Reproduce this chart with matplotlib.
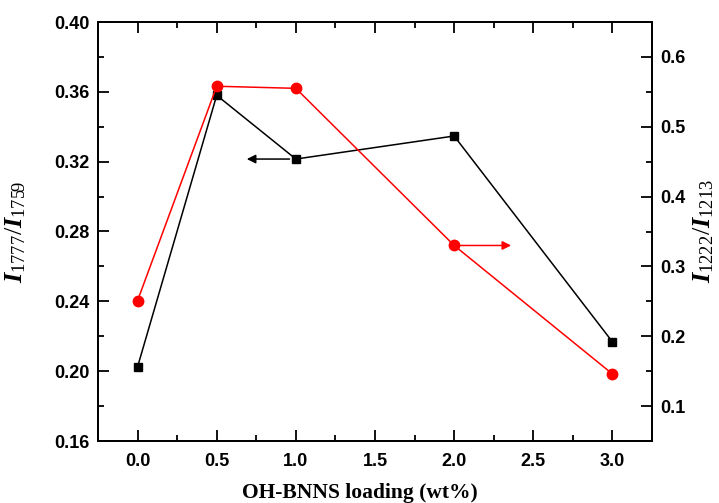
import matplotlib
matplotlib.use('Agg')
import matplotlib.pyplot as plt
from matplotlib.ticker import MultipleLocator

# data
loading = [0.0, 0.5, 1.0, 2.0, 3.0]
ratio_1777 = [0.2025, 0.358, 0.3215, 0.3347, 0.2168]   # left axis, black squares
ratio_1222 = [0.251, 0.558, 0.555, 0.330, 0.146]        # right axis, red circles

plt.rcParams['font.family'] = 'Liberation Sans'
plt.rcParams['mathtext.fontset'] = 'custom'
plt.rcParams['mathtext.it'] = 'Liberation Serif:italic:bold'
plt.rcParams['mathtext.rm'] = 'Liberation Serif'
plt.rcParams['axes.linewidth'] = 1.3

fig = plt.figure(figsize=(7.19, 5.03), dpi=100)
ax = fig.add_axes([98/719, 1 - 441/503, (652-98)/719, (441-22)/503])
ax2 = ax.twinx()

ax.plot(loading, ratio_1777, color='black', marker='s', markersize=6, lw=1.1)
ax2.plot(loading, ratio_1222, color='red', marker='o', markersize=7.5, lw=1.1)

# arrows pointing at the axis each series belongs to
ax.annotate('', xy=(0.69, ratio_1777[2]), xytext=(0.96, ratio_1777[2]),
            arrowprops=dict(arrowstyle='-|>', color='black', lw=1.1,
                            mutation_scale=13, shrinkA=0, shrinkB=0))
ax2.annotate('', xy=(2.36, ratio_1222[3]), xytext=(2.04, ratio_1222[3]),
             arrowprops=dict(arrowstyle='-|>', color='red', lw=1.1,
                             mutation_scale=13, shrinkA=0, shrinkB=0))

ax.set_xlim(-0.25, 3.25)
ax.set_ylim(0.16, 0.40)
ax2.set_ylim(0.05, 0.65)

ax.xaxis.set_major_locator(MultipleLocator(0.5))
ax.xaxis.set_minor_locator(MultipleLocator(0.25))
ax.yaxis.set_major_locator(MultipleLocator(0.04))
ax.yaxis.set_minor_locator(MultipleLocator(0.02))
ax2.yaxis.set_minor_locator(MultipleLocator(0.05))
ax2.set_yticks([0.1, 0.2, 0.3, 0.4, 0.5, 0.6])

ax.tick_params(axis='x', which='both', direction='in', top=True, width=1.3)
ax.tick_params(axis='y', which='both', direction='in', left=True, right=False, width=1.3)
ax.tick_params(which='major', length=8, labelsize=13, pad=6)
ax.tick_params(axis='x', which='major', pad=9)
ax.tick_params(which='minor', length=4)
ax2.tick_params(which='both', direction='in', width=1.3)
ax2.tick_params(which='major', length=8, labelsize=13, pad=6)
ax2.tick_params(which='minor', length=4)

ax.set_xticks([0.0, 0.5, 1.0, 1.5, 2.0, 2.5, 3.0])
ax.set_xticklabels([f'{v:.1f}' for v in ax.get_xticks()])
ax.set_yticklabels([f'{v:.2f}' for v in ax.get_yticks()])
for lab in ax.get_xticklabels() + ax.get_yticklabels() + ax2.get_yticklabels():
    lab.set_fontweight('bold')

ax.set_xlabel('OH-BNNS loading (wt%)', family='Liberation Serif', weight='bold',
              fontsize=15.5)
ax.set_ylabel(r'$I_{1777}/I_{1759}$', fontsize=19)
ax2.set_ylabel(r'$I_{1222}/I_{1213}$', fontsize=19)
ax.xaxis.set_label_coords(0.473, -0.1)
ax.yaxis.set_label_coords(-0.127, 0.5)
ax2.yaxis.set_label_coords(1.072, 0.5)

fig.savefig('out.png', dpi=100)
